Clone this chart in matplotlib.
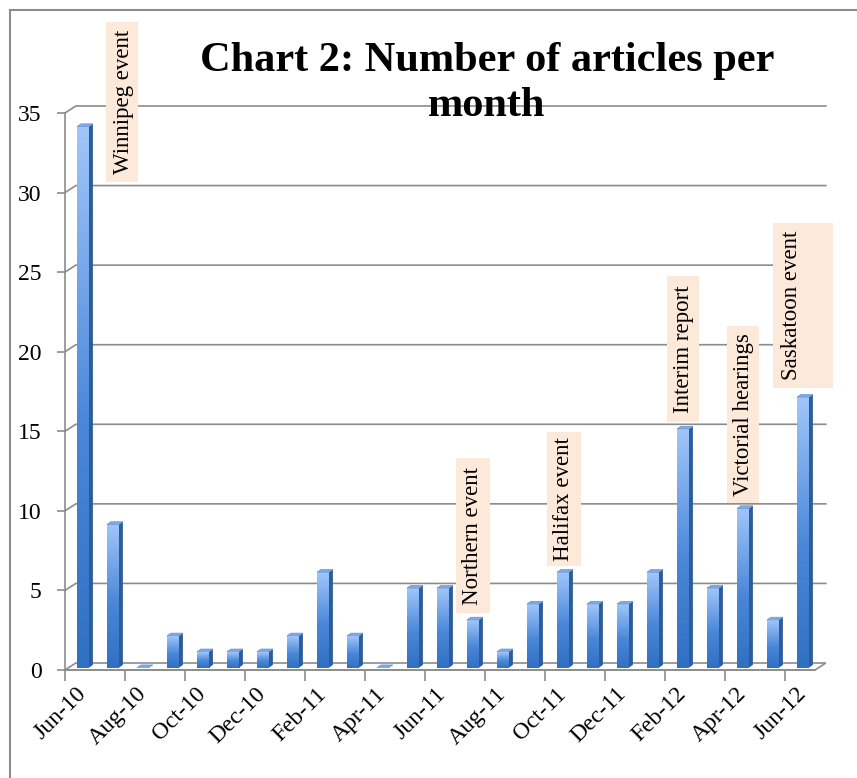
import numpy as np
import matplotlib
matplotlib.use('Agg')
import matplotlib.pyplot as plt
from matplotlib.colors import LinearSegmentedColormap
from matplotlib.patches import Polygon, Rectangle
from matplotlib.lines import Line2D

months = ['Jun-10', 'Jul-10', 'Aug-10', 'Sep-10', 'Oct-10', 'Nov-10', 'Dec-10',
          'Jan-11', 'Feb-11', 'Mar-11', 'Apr-11', 'May-11', 'Jun-11', 'Jul-11',
          'Aug-11', 'Sep-11', 'Oct-11', 'Nov-11', 'Dec-11', 'Jan-12', 'Feb-12',
          'Mar-12', 'Apr-12', 'May-12', 'Jun-12']
articles = [34, 9, 0, 2, 1, 1, 1, 2, 6, 2, 0, 5, 5, 3, 1, 4, 6, 4, 4, 6, 15, 5, 10, 3, 17]
y_ticks = [0, 5, 10, 15, 20, 25, 30, 35]

# event labels: text, box left, box right, box bottom, box top, text x
events = [
    ('Winnipeg event', 1.37, 2.43, 30.66, 40.7, 1.95),
    ('Northern event', 13.03, 14.17, 3.58, 13.32, 13.6),
    ('Halifax event', 16.07, 17.2, 6.54, 14.96, 16.63),
    ('Interim report', 20.07, 21.13, 15.58, 24.76, 20.6),
    ('Victorial hearings', 22.07, 23.13, 10.49, 21.62, 22.6),
    ('Saskatoon event', 23.6, 25.6, 17.72, 28.09, 24.23),
]

serif = 'Liberation Serif'
grid_col = '#8C8C8C'
W, H = 857, 778

fig = plt.figure(figsize=(W / 100, H / 100), dpi=100)
ax = fig.add_axes([65 / W, (H - 670) / H, 750 / W, 557 / H])
n = len(months)

# 3D-ish walls: depth offset of the floor / back wall
fdx, fdy = 0.36, 0.44
for y in y_ticks[1:]:
    ax.plot([0, fdx, n + fdx], [y, y + fdy, y + fdy], color=grid_col, lw=1.2,
            clip_on=False, zorder=1)
floor = Polygon([(0, 0), (n, 0), (n + fdx, fdy), (fdx, fdy)], closed=True,
                facecolor='white', edgecolor=grid_col, lw=1.2, clip_on=False, zorder=1)
ax.add_patch(floor)

# bars with gradient front, dark side and light top
cmap = LinearSegmentedColormap.from_list('bar', [(0, '#3070C2'), (0.45, '#4A87D8'), (1, '#A0C6FA')])
grad = np.linspace(0, 1, 200).reshape(-1, 1)
bw, bdx, bdy, lift = 0.4, 0.13, 0.17, 0.15
for i, v in enumerate(articles):
    x0 = i + 0.4
    x1 = x0 + bw
    y0 = lift
    y1 = v + lift
    if v > 0:
        ax.imshow(grad, extent=[x0, x1, y0, y1], origin='lower', aspect='auto',
                  cmap=cmap, zorder=3, interpolation='bilinear')
        side = Polygon([(x1, y0), (x1 + bdx, y0 + bdy), (x1 + bdx, y1 + bdy), (x1, y1)],
                       closed=True, facecolor='#2C5C9B', edgecolor='none', zorder=3)
        ax.add_patch(side)
    top = Polygon([(x0, y1), (x1, y1), (x1 + bdx, y1 + bdy), (x0 + bdx, y1 + bdy)],
                  closed=True, facecolor='#7FA9E4', edgecolor='#5F8ED0', lw=0.4, zorder=3)
    ax.add_patch(top)

ax.set_xlim(0, n)
ax.set_ylim(0, 35)

# axes
for s in ['top', 'right']:
    ax.spines[s].set_visible(False)
for s in ['left', 'bottom']:
    ax.spines[s].set_color(grid_col)
    ax.spines[s].set_linewidth(1.2)
    ax.spines[s].set_zorder(2)

ax.set_yticks(y_ticks)
ax.set_yticklabels([str(t) for t in y_ticks], fontsize=17, family=serif)
ax.tick_params(axis='y', length=6, width=1.2, color=grid_col, pad=11)

ax.set_xticks(np.arange(0, n, 2))
ax.set_xticklabels([])
ax.tick_params(axis='x', which='major', length=8, width=1.2, color=grid_col)
ax.set_xticks(np.arange(0, n, 2) + 0.6, minor=True)
ax.set_xticklabels(months[::2], minor=True, rotation=45, ha='right', va='center',
                   rotation_mode='anchor', fontsize=17, family=serif)
ax.tick_params(axis='x', which='minor', length=0, pad=15)

# event labels
for label, bx0, bx1, by0, by1, tx in events:
    ax.add_patch(Rectangle((bx0, by0), bx1 - bx0, by1 - by0, facecolor='#FDE9D9',
                           edgecolor='none', clip_on=False, zorder=4))
    ax.text(tx, (by0 + by1) / 2, label, rotation=90, ha='center', va='center',
            fontsize=16.5, family=serif, zorder=5, clip_on=False)

# title, two lines
fig.text(487 / W, 1 - 71 / H, 'Chart 2: Number of articles per', ha='center',
         va='baseline', fontsize=30.5, fontweight='bold', family=serif)
fig.text(487 / W, 1 - 116 / H, 'month', ha='center', va='baseline',
         fontsize=30.5, fontweight='bold', family=serif)

# outer chart border (only top and left visible)
fig.add_artist(Line2D([10 / W, 10 / W], [0, 1 - 10 / H], color=grid_col, lw=1.5,
                      transform=fig.transFigure))
fig.add_artist(Line2D([10 / W, 1], [1 - 10 / H, 1 - 10 / H], color=grid_col, lw=1.5,
                      transform=fig.transFigure))

fig.savefig('out.png', dpi=100, facecolor='white')
